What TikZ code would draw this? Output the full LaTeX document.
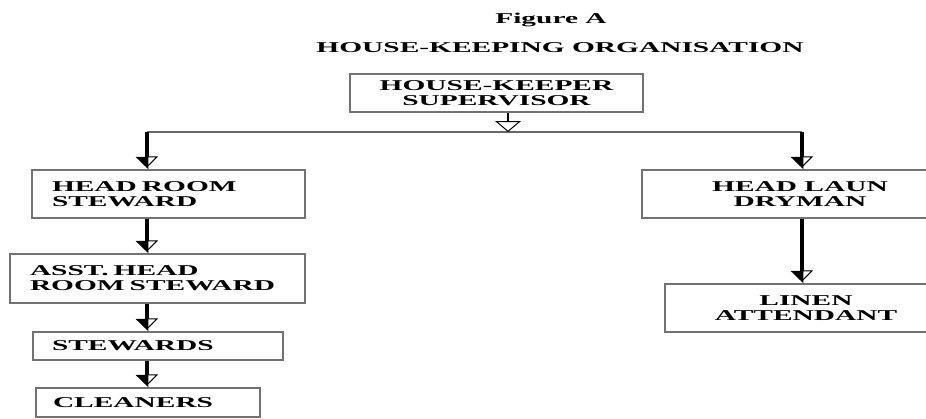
\documentclass[tikz,border=0pt]{standalone}
\usepackage{fontspec}
\setmainfont{Liberation Serif}[FakeStretch=1.96]
\usetikzlibrary{arrows.meta}
\tikzset{every node/.style={font=\fontsize{15}{15}\selectfont\bfseries,inner sep=0pt},
  box/.style={draw=black!55,line width=1.3pt,inner xsep=20pt,minimum height=48pt},
  lbox/.style={box,align=left},
  cbox/.style={box,align=center},
  bus/.style={draw=black!60,line width=1.2pt},
  feed/.style={line width=2.5pt,-{Triangle[open,fill=white,width=26pt,length=11pt,line width=1pt]}},
  drop/.style={line width=4pt,-{Triangle[open,fill=white,left,width=22pt,length=11pt,line width=1pt,sep=-11pt]Triangle[right,width=22pt,length=11pt]}}}

\begin{document}
\begin{tikzpicture}[x=1pt,y=-1pt]
      \useasboundingbox (0,0) rectangle (926,418);
      \node[anchor=base] (fig) at (551,23.5) {Figure A};
      \node[anchor=base] (title) at (560,52.5) {HOUSE-KEEPING ORGANISATION};
      \node[cbox,minimum width=293pt,minimum height=38pt] (hk) at (496.5,93) {HOUSE-KEEPER\\SUPERVISOR};
      \node[lbox,text width=233pt] (hrs) at (168.5,194) {HEAD ROOM\\STEWARD};
      \node[lbox,text width=255pt,minimum height=49pt] (asst) at (157.5,278.5) {ASST. HEAD\\ROOM STEWARD};
      \node[lbox,text width=212pt,inner xsep=19pt,minimum height=28pt] (stew) at (158,346) {STEWARDS};
      \node[lbox,text width=190pt,inner xsep=17pt,minimum height=29pt] (clean) at (148,402.5) {CLEANERS};
      \node[cbox,minimum width=316pt] (hld) at (800,194) {HEAD LAUN\\DRYMAN};
      \node[cbox,minimum width=282pt] (lin) at (806,308) {LINEN\\ATTENDANT};
      \coordinate (L) at (147,132);
      \coordinate (M) at (508,132);
      \coordinate (R) at (802,132);

      \draw[bus] (L) -- (R);
      \draw[feed] (hk.south -| M) -- (M);
      \draw[drop] (L) -- (hrs.north -| L);
      \draw[drop] (hrs.south -| L) -- (asst.north -| L);
      \draw[drop] (asst.south -| L) -- (stew.north -| L);
      \draw[drop] (stew.south -| L) -- (clean.north -| L);
      \draw[drop] (R) -- (hld.north -| R);
      \draw[drop] (hld.south -| R) -- (lin.north -| R);
    \end{tikzpicture}
\end{document}
